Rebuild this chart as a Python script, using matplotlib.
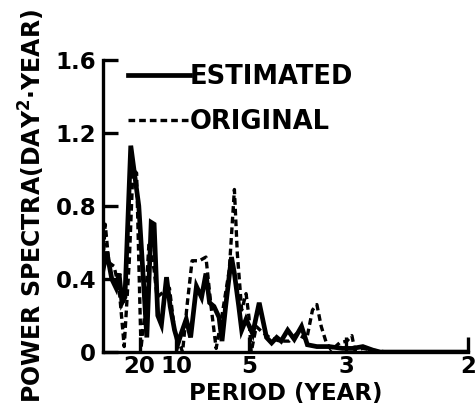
import matplotlib
matplotlib.use("Agg")
import matplotlib.pyplot as plt

# Frequency (1/year) and power spectra for the two series
est_freq = [0.000, 0.005, 0.012, 0.018, 0.022, 0.026, 0.030, 0.038, 0.044, 0.049,
            0.056, 0.060, 0.066, 0.070, 0.075, 0.080, 0.087, 0.092, 0.098, 0.103,
            0.107, 0.114, 0.120, 0.128, 0.135, 0.141, 0.146, 0.152, 0.159, 0.163,
            0.168, 0.176, 0.180, 0.186, 0.190, 0.196, 0.205, 0.214, 0.224, 0.231,
            0.238, 0.244, 0.253, 0.262, 0.272, 0.280, 0.293, 0.310, 0.328, 0.342,
            0.356, 0.370, 0.380, 0.500]
est_power = [0.45, 0.55, 0.40, 0.35, 0.43, 0.27, 0.30, 1.13, 0.95, 0.80,
             0.35, 0.08, 0.71, 0.70, 0.20, 0.15, 0.41, 0.25, 0.12, 0.05,
             0.10, 0.18, 0.08, 0.36, 0.30, 0.43, 0.27, 0.25, 0.19, 0.06,
             0.25, 0.52, 0.43, 0.25, 0.12, 0.18, 0.10, 0.27, 0.08, 0.05,
             0.08, 0.06, 0.12, 0.07, 0.14, 0.04, 0.03, 0.03, 0.02, 0.02,
             0.03, 0.01, 0.00, 0.00]

orig_freq = [0.000, 0.003, 0.008, 0.015, 0.022, 0.029, 0.036, 0.041, 0.046, 0.052,
             0.057, 0.063, 0.070, 0.074, 0.083, 0.091, 0.098, 0.109, 0.115, 0.122,
             0.132, 0.141, 0.148, 0.155, 0.163, 0.173, 0.180, 0.184, 0.190, 0.196,
             0.200, 0.203, 0.210, 0.218, 0.228, 0.242, 0.255, 0.265, 0.279, 0.287,
             0.293, 0.299, 0.306, 0.313, 0.324, 0.334, 0.341, 0.345, 0.356, 0.370,
             0.389, 0.500]
orig_power = [0.50, 0.70, 0.49, 0.47, 0.35, 0.03, 0.50, 1.00, 0.98, 0.02,
              0.20, 0.60, 0.45, 0.30, 0.33, 0.35, 0.12, 0.00, 0.25, 0.50,
              0.50, 0.52, 0.25, 0.02, 0.20, 0.45, 0.89, 0.54, 0.23, 0.32,
              0.19, 0.00, 0.14, 0.11, 0.08, 0.06, 0.06, 0.10, 0.07, 0.23,
              0.26, 0.14, 0.05, 0.01, 0.05, 0.06, 0.09, 0.01, 0.02, 0.01,
              0.00, 0.00]

period_ticks = [20, 10, 5, 3, 2]
y_ticks = [0, 0.4, 0.8, 1.2, 1.6]
y_tick_labels = ["0", "0.4", "0.8", "1.2", "1.6"]

plt.rcParams['font.family'] = ['DejaVu Sans']
plt.rcParams['font.weight'] = 'bold'
plt.rcParams['mathtext.fontset'] = 'dejavusans'

fig = plt.figure(figsize=(4.77, 4.07), dpi=100)
ax = fig.add_axes([0.216, 0.135, 0.765, 0.718])

ax.plot(est_freq, est_power, color='black', lw=3.4, solid_joinstyle='miter',
        label='ESTIMATED')
ax.plot(orig_freq, orig_power, color='black', lw=2.4, dashes=(2.0, 1.2),
        label='ORIGINAL')

ax.set_xlim(0, 0.5)
ax.set_ylim(0, 1.6)
ax.set_xticks([1.0 / p for p in period_ticks])
ax.set_xticklabels([str(p) for p in period_ticks])
ax.set_yticks(y_ticks)
ax.set_yticklabels(y_tick_labels)

for s in ['top', 'right']:
    ax.spines[s].set_visible(False)
for s in ['left', 'bottom']:
    ax.spines[s].set_linewidth(2.4)

ax.tick_params(axis='both', direction='in', length=11, width=2.4,
               labelsize=16.5, pad=2)
ax.tick_params(axis='y', pad=5)
for lab in ax.get_xticklabels() + ax.get_yticklabels():
    lab.set_fontweight('bold')

ax.set_xlabel('PERIOD (YEAR)', fontsize=16.5, fontweight='bold', labelpad=3)
ax.set_ylabel(r'POWER SPECTRA(DAY$^{\mathbf{2}}$·YEAR)', fontsize=17,
              fontweight='bold', labelpad=6)

leg = ax.legend(loc='upper left', bbox_to_anchor=(0.04, 1.02), frameon=False,
                fontsize=18.5, handlelength=2.4, handletextpad=0.0,
                labelspacing=0.72, borderaxespad=0.0)
for t in leg.get_texts():
    t.set_fontweight('bold')

fig.savefig('out.png', dpi=100)
